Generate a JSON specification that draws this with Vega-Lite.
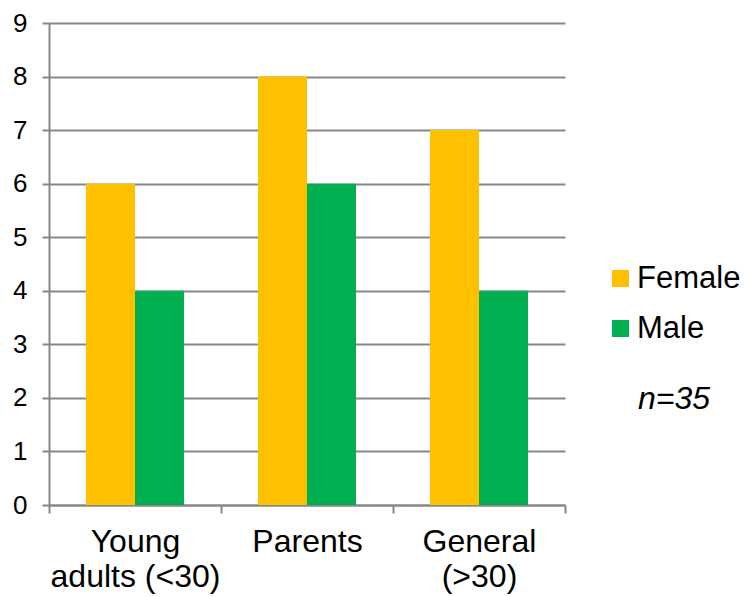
{
  "$schema": "https://vega.github.io/schema/vega-lite/v6.json",
  "width": 516,
  "height": 482,
  "autosize": "none",
  "padding": {"left": 49, "top": 23, "right": 179, "bottom": 92},
  "background": "white",
  "config": {"view": {"stroke": null}, "font": "Liberation Sans"},
  "data": {"values": [
    {"group": "Young adults (<30)", "gender": "Female", "count": 6},
    {"group": "Young adults (<30)", "gender": "Male", "count": 4},
    {"group": "Parents", "gender": "Female", "count": 8},
    {"group": "Parents", "gender": "Male", "count": 6},
    {"group": "General (>30)", "gender": "Female", "count": 7},
    {"group": "General (>30)", "gender": "Male", "count": 4}
  ]},
  "title": {
    "text": "n=35",
    "orient": "top",
    "anchor": "start",
    "frame": "group",
    "fontSize": 32,
    "fontStyle": "italic",
    "fontWeight": "normal",
    "color": "black",
    "offset": 0,
    "dx": 589,
    "dy": 431,
    "baseline": "alphabetic"
  },
  "mark": {"type": "bar"},
  "encoding": {
    "x": {
      "field": "group",
      "type": "nominal",
      "sort": null,
      "scale": {"paddingInner": 0, "paddingOuter": 0},
      "axis": {
        "title": null,
        "labelAngle": 0,
        "tickBand": "extent",
        "grid": false,
        "domainColor": "#878787",
        "domainWidth": 2,
        "tickColor": "#878787",
        "tickWidth": 2,
        "tickSize": 8,
        "labelFontSize": 32,
        "labelColor": "black",
        "labelPadding": 13,
        "labelLineHeight": 35,
        "labelExpr": "datum.value == 'Young adults (<30)' ? ['Young', 'adults (<30)'] : datum.value == 'General (>30)' ? ['General', '(>30)'] : datum.value"
      }
    },
    "xOffset": {
      "field": "gender",
      "sort": ["Female", "Male"],
      "scale": {"paddingInner": 0, "paddingOuter": 0.755}
    },
    "y": {
      "field": "count",
      "type": "quantitative",
      "scale": {"domain": [0, 9]},
      "axis": {
        "title": null,
        "values": [0, 1, 2, 3, 4, 5, 6, 7, 8, 9],
        "grid": true,
        "gridColor": "#878787",
        "gridWidth": 2,
        "domainColor": "#878787",
        "domainWidth": 2,
        "tickColor": "#878787",
        "tickWidth": 2,
        "tickSize": 7,
        "labelFontSize": 26,
        "labelColor": "black",
        "labelPadding": 15
      }
    },
    "color": {
      "field": "gender",
      "type": "nominal",
      "scale": {"domain": ["Female", "Male"], "range": ["#FFC000", "#00B050"]},
      "legend": {
        "title": null,
        "orient": "none",
        "legendX": 556,
        "legendY": 240,
        "padding": 0,
        "symbolType": "square",
        "symbolSize": 289,
        "symbolStrokeWidth": 0,
        "symbolOpacity": 1,
        "labelFontSize": 31,
        "labelColor": "black",
        "labelOffset": 1,
        "rowPadding": 18
      }
    }
  }
}
